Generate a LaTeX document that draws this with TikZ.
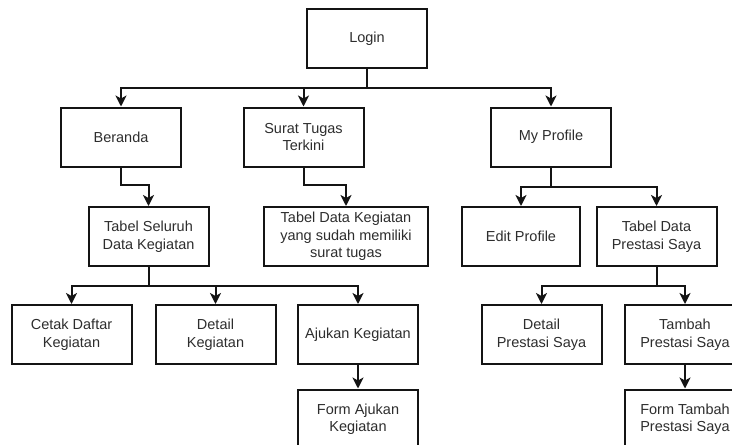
\documentclass[tikz,border=0pt]{standalone}
\usepackage{fontspec}
\setmainfont{Liberation Sans}
\usetikzlibrary{arrows.meta}
\definecolor{txt}{RGB}{45,45,45}
\definecolor{ln}{RGB}{20,20,20}
\begin{document}
\begin{tikzpicture}[x=1pt,y=-1pt,
  box/.style={draw=ln,line width=2pt,minimum width=120pt,minimum height=59pt,
    inner sep=0pt,align=center,text=txt,
    font=\fontsize{14.5}{17.5}\selectfont},
  arr/.style={draw=ln,line width=2pt,-{Stealth[length=11pt,width=11pt,inset=3pt]}}]
\useasboundingbox (0,0) rectangle (732,445);
\node[box] (login) at (367,38.5) {Login};
\node[box] (beranda) at (121,137) {Beranda};
\node[box] (surat) at (303.5,137) {Surat Tugas\\Terkini};
\node[box] (profile) at (551,137) {My Profile};
\node[box] (tabelsel) at (148.5,236.5) {Tabel Seluruh\\Data Kegiatan};
\node[box,minimum width=164pt] (tabelkeg) at (346,236.5) {Tabel Data Kegiatan\\yang sudah memiliki\\surat tugas};
\node[box,minimum width=118pt] (edit) at (521,236.5) {Edit Profile};
\node[box] (tabelpres) at (656.5,236.5) {Tabel Data\\Prestasi Saya};
\node[box] (cetak) at (71.5,334.5) {Cetak Daftar\\Kegiatan};
\node[box] (detailk) at (215.5,334.5) {Detail\\Kegiatan};
\node[box] (ajukan) at (358,334.5) {Ajukan Kegiatan};
\node[box] (formaj) at (358,419) {Form Ajukan\\Kegiatan};
\node[box] (detailp) at (541.5,334.5) {Detail\\Prestasi Saya};
\node[box] (tambah) at (685,334.5) {Tambah\\Prestasi Saya};
\node[box] (formt) at (685,419) {Form Tambah\\Prestasi Saya};
% connectors
\foreach \t in {beranda,surat,profile}
  \draw[arr] (login.south) -- (login.south |- 0,88) -| (\t.north);
\draw[arr] (beranda.south) -- (beranda.south |- 0,185) -| (tabelsel.north);
\draw[arr] (surat.south) -- (surat.south |- 0,185) -| (tabelkeg.north);
\foreach \t in {edit,tabelpres}
  \draw[arr] (profile.south) -- (profile.south |- 0,187) -| (\t.north);
\foreach \t in {cetak,detailk,ajukan}
  \draw[arr] (tabelsel.south) -- (tabelsel.south |- 0,286) -| (\t.north);
\foreach \t in {detailp,tambah}
  \draw[arr] (tabelpres.south) -- (tabelpres.south |- 0,286) -| (\t.north);
\draw[arr] (ajukan) -- (formaj);
\draw[arr] (tambah) -- (formt);
\end{tikzpicture}
\end{document}
